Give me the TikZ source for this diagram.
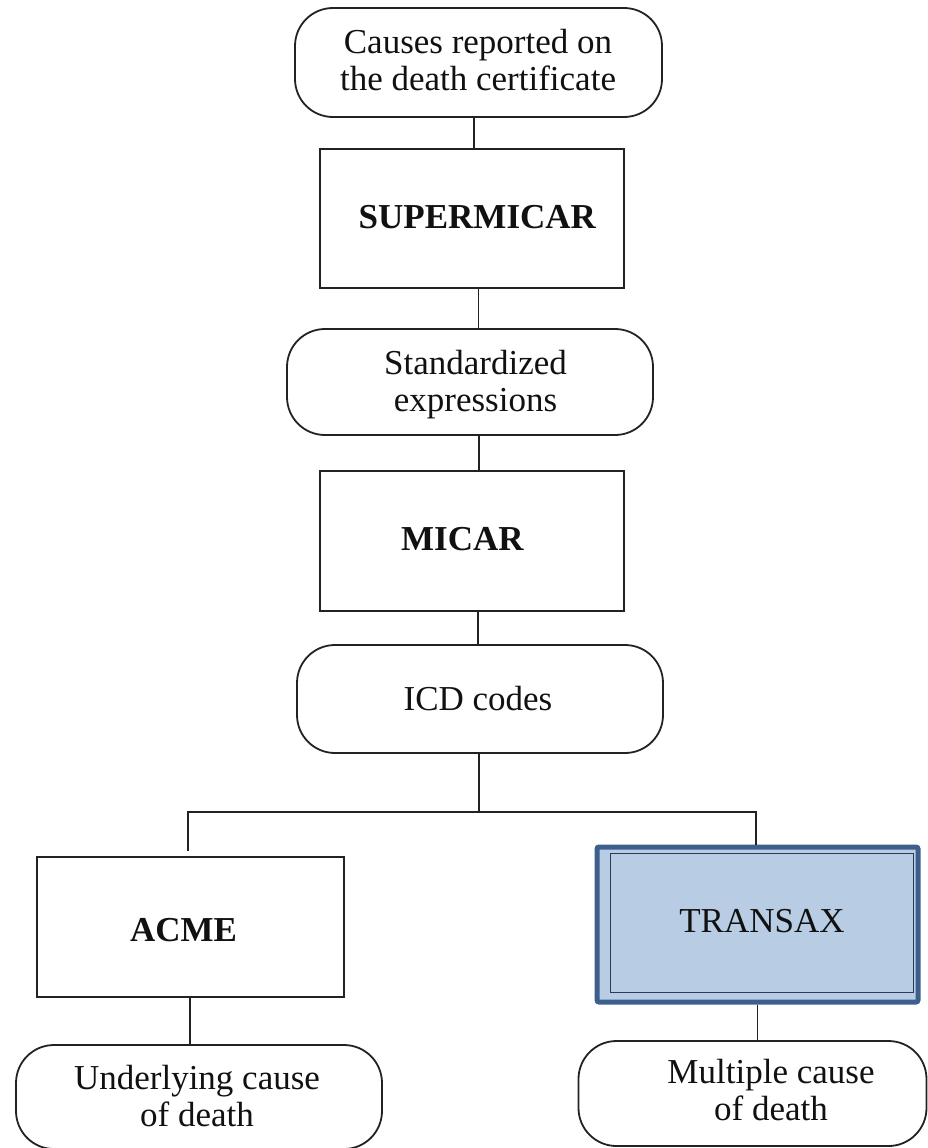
\documentclass[tikz,border=0pt]{standalone}
\usepackage{fontspec}
\setmainfont{Liberation Serif}
\definecolor{linec}{HTML}{222222}
\definecolor{textc}{HTML}{111111}
\definecolor{tfill}{HTML}{B8CCE4}
\definecolor{tborder}{HTML}{3C5F8D}
\definecolor{tinner}{HTML}{2B3A55}
\tikzset{
  rbox/.style={draw=linec, line width=1.8pt, rounded corners=38pt, inner sep=0pt, fill=white},
  sbox/.style={draw=linec, line width=1.8pt, inner sep=0pt, fill=white},
  txt/.style={font=\fontsize{35}{37}\selectfont, text=textc, align=center, inner sep=0pt},
  conn/.style={draw=linec, line width=1.8pt},
}
\begin{document}
\begin{tikzpicture}[x=1pt,y=-1pt]
\useasboundingbox (0,0) rectangle (928,1148);
% boxes
\node[rbox, minimum width=367pt, minimum height=109pt] (top) at (478.5,62.5) {};
\node[sbox, minimum width=304pt, minimum height=139pt] (sup) at (472,218.5) {};
\node[rbox, minimum width=366pt, minimum height=106pt] (std) at (470,382) {};
\node[sbox, minimum width=304pt, minimum height=140pt] (micar) at (472,541) {};
\node[rbox, minimum width=366pt, minimum height=108pt] (icd) at (480,699) {};
\node[sbox, minimum width=307pt, minimum height=140pt] (acme) at (190.5,927) {};
\node[draw=tborder, fill=tfill, line width=5pt, rounded corners=2pt, inner sep=0pt,
      minimum width=321pt, minimum height=155pt] (transax) at (757.5,924.5) {};
\node[draw=tinner, line width=1pt, inner sep=0pt,
      minimum width=303pt, minimum height=139pt] (transaxin) at (761.5,922.5) {};
\node[rbox, minimum width=366pt, minimum height=104pt] (under) at (199,1097) {};
\node[rbox, minimum width=348pt, minimum height=105pt] (mult) at (752.5,1093.5) {};
% texts
\node[txt] (toptxt) at (478,59.7) {Causes reported on\\the death certificate};
\node[txt, anchor=base] (suptxt) at (477.5,228) {\textbf{SUPERMICAR}};
\node[txt] (stdtxt) at (475.5,384.8) {Standardized\\expressions};
\node[txt, anchor=base] (micartxt) at (462.5,550) {\textbf{MICAR}};
\node[txt, anchor=base] (icdtxt) at (478,710) {ICD codes};
\node[txt, anchor=base] (acmetxt) at (183.5,941) {\textbf{ACME}};
\node[txt, anchor=base] (transaxtxt) at (762,932) {TRANSAX};
\node[txt] (undertxt) at (197,1096.5) {Underlying cause\\of death};
\node[txt] (multtxt) at (771,1090.5) {Multiple cause\\of death};
% connectors
\draw[conn] ([xshift=2pt]sup.north) -- ([xshift=2pt]sup.north |- top.south);
\draw[conn] ([xshift=6.5pt]sup.south) -- ([xshift=6.5pt]sup.south |- std.north);
\draw[conn] ([xshift=9pt]std.south) -- ([xshift=9pt]std.south |- micar.north);
\draw[conn] ([xshift=6pt]micar.south) -- ([xshift=6pt]micar.south |- icd.north);
\coordinate (junc) at (479,812);
\coordinate (jl) at (188,812);
\coordinate (jr) at (756,812);
\draw[conn] ([xshift=-1pt]icd.south) -- (junc);
\draw[conn] ([yshift=5pt]acme.north -| jl) -- (jl) -- (jr) -- (jr |- transax.north);
\draw[conn] ([xshift=-0.5pt]acme.south) -- ([xshift=-0.5pt]acme.south |- under.north);
\draw[conn] (transax.south) -- (transax.south |- mult.north);
\end{tikzpicture}
\end{document}
